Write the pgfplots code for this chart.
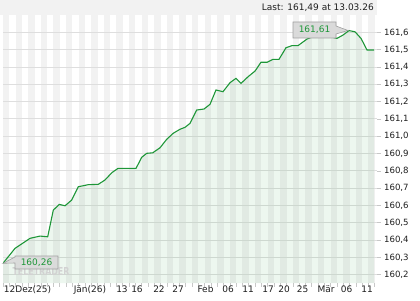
\documentclass[border=0pt]{standalone}
\usepackage{fontspec}
\setmainfont{DejaVu Sans}
\usepackage{pgfplots}
\usepackage{pgfplotstable}
\pgfplotsset{compat=1.18}
\definecolor{linegreen}{RGB}{30,150,56}
\definecolor{stripe}{RGB}{242,242,242}
\definecolor{gridc}{RGB}{222,222,222}
\definecolor{tickc}{RGB}{200,200,200}
\definecolor{boxfill}{RGB}{218,218,218}
\definecolor{boxline}{RGB}{160,160,160}
\definecolor{txt}{RGB}{30,30,30}

\pgfplotstableread{
x y
3 160.266
15 160.352
30 160.410
40 160.423
47.7 160.419
53.3 160.573
59.3 160.606
65 160.598
71.7 160.631
78.3 160.708
88.3 160.720
98.3 160.722
105 160.747
112 160.790
118 160.814
136 160.814
141.7 160.878
146.7 160.901
152.7 160.904
160 160.933
166.7 160.982
173.3 161.017
180 161.040
185 161.051
190 161.074
196.7 161.151
204 161.157
210 161.184
216 161.267
223 161.257
230 161.309
236 161.334
241 161.305
248 161.343
255 161.376
261 161.427
267 161.427
273 161.444
279 161.444
286 161.511
292 161.523
298 161.523
307 161.561
315 161.580
322 161.590
330 161.575
337 161.565
343 161.584
349 161.610
355 161.603
361 161.565
367 161.498
374 161.498
}\dataline

\pgfplotstableread{
x y
3 160.152
3 160.266
15 160.352
30 160.410
40 160.423
47.7 160.419
53.3 160.573
59.3 160.606
65 160.598
71.7 160.631
78.3 160.708
88.3 160.720
98.3 160.722
105 160.747
112 160.790
118 160.814
136 160.814
141.7 160.878
146.7 160.901
152.7 160.904
160 160.933
166.7 160.982
173.3 161.017
180 161.040
185 161.051
190 161.074
196.7 161.151
204 161.157
210 161.184
216 161.267
223 161.257
230 161.309
236 161.334
241 161.305
248 161.343
255 161.376
261 161.427
267 161.427
273 161.444
279 161.444
286 161.511
292 161.523
298 161.523
307 161.561
315 161.580
322 161.590
330 161.575
337 161.565
343 161.584
349 161.610
355 161.603
361 161.565
367 161.498
374 161.498
374 160.152
}\datafill

\begin{document}
\fontsize{8.6}{10}\selectfont
\begin{tikzpicture}[x=1pt,y=1pt,font=\fontsize{8.6}{10}\selectfont]
\useasboundingbox (0,0) rectangle (420,300);
\fill[stripe] (0,285) rectangle (377,300);
\foreach \i in {0,...,29} {
  \fill[stripe] ({3+12.6*\i},17) rectangle ({9.3+12.6*\i},285);
}
\node[anchor=base east, inner sep=0, text=txt, font=\fontsize{9}{10}\selectfont] at (374,289) {Last: 161,49 at 13.03.26};
\begin{axis}[
  at={(3pt,17pt)}, anchor=south west,
  scale only axis, width=374pt, height=268pt,
  xmin=3, xmax=377, ymin=160.152, ymax=161.70,
  axis line style={draw=none},
  /pgf/number format/assume math mode=true,
  ticklabel style={font=\fontsize{8.6}{10}\selectfont, text=txt},
  xtick={3,9.3,...,377},
  xticklabel=\empty,
  xtick pos=left, ytick pos=right,
  yticklabel pos=right,
  major tick length=4pt, tick align=outside,
  tick style={color=tickc, line width=0.6pt},
  extra x ticks={27.5,90,122,137,159,178,205.5,228,248,268,284,302.5,326,346.5,367},
  extra x tick labels={12Dez(25),Jän(26),13,16,22,27,Feb,06,11,17,20,25,Mär,06,11},
  extra x tick style={grid=none, major tick length=0pt, tick style={draw=none},
    xticklabel style={font=\fontsize{9}{10}\selectfont}},
  ytick={160.2,160.3,160.4,160.5,160.6,160.7,160.8,160.9,161.0,161.1,161.2,161.3,161.4,161.5,161.6},
  yticklabel style={/pgf/number format/.cd, fixed, fixed zerofill, precision=1, use comma},
  ymajorgrids=true,
  major y grid style={gridc, line width=0.8pt},
]
\addplot[draw=none, fill=linegreen, fill opacity=0.08] table[x=x,y=y] {\datafill} -- cycle;
\addplot[linegreen, line width=1.1pt, mark=none] table[x=x,y=y] {\dataline};
\end{axis}
% annotations
\draw[fill=boxfill, draw=boxline, line width=0.6pt]
  (293,262) -- (293,278) -- (336,278) -- (336,274) -- (348,269.5) -- (336,266) -- (336,262) -- cycle;
\node[text=linegreen, font=\fontsize{9}{10}\selectfont] at (314.5,270) {161,61};
\node[text=gray!35, font=\bfseries\fontsize{11}{12}\selectfont, xscale=0.72, inner sep=0] at (41,29) {TELETRADER};
\draw[fill=boxfill, fill opacity=0.9, draw=boxline, line width=0.6pt]
  (3,36.7) -- (15,43) -- (15,44) -- (58,44) -- (58,31) -- (15,31) -- (15,37) -- cycle;
\node[text=linegreen, font=\fontsize{9}{10}\selectfont] at (36.5,37.5) {160,26};
\end{tikzpicture}
\end{document}
